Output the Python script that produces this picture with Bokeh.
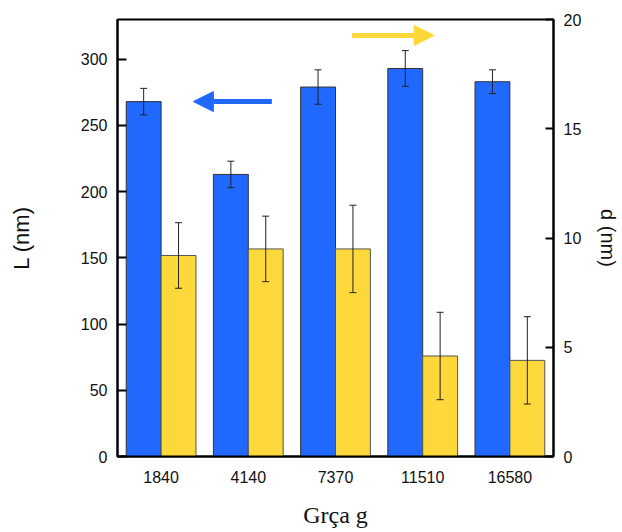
from bokeh.plotting import figure
from bokeh.models import (ColumnDataSource, FactorRange, Range1d, LinearAxis,
                          Whisker, TeeHead, Arrow, NormalHead, FixedTicker)
from bokeh.transform import dodge
from bokeh.embed import file_html
from bokeh.resources import INLINE

# ---- data ----
categories = ["1840", "4140", "7370", "11510", "16580"]
L_values = [268, 213, 279, 293, 283]          # left axis, nm
L_errors = [10, 10, 13, 13.5, 9]
d_values = [9.2, 9.5, 9.5, 4.6, 4.4]          # right axis, nm
d_errors = [1.5, 1.5, 2.0, 2.0, 2.0]
left_ticks = [0, 50, 100, 150, 200, 250, 300]
right_ticks = [0, 5, 10, 15, 20]

BLUE = "#2168FF"
YELLOW = "#FDD83B"
FONT = "Liberation Sans"
TXT = "#111111"

src = ColumnDataSource(data=dict(
    x=categories,
    L=L_values,
    L_up=[v + e for v, e in zip(L_values, L_errors)],
    L_lo=[v - e for v, e in zip(L_values, L_errors)],
    d=d_values,
    d_up=[v + e for v, e in zip(d_values, d_errors)],
    d_lo=[v - e for v, e in zip(d_values, d_errors)],
))

p = figure(width=622, height=530, x_range=FactorRange(factors=categories, range_padding=0),
           y_range=Range1d(0, 330), output_backend="svg", toolbar_location=None,
           min_border_left=117, min_border_right=67, min_border_top=19,
           min_border_bottom=73)
p.extra_y_ranges = {"d": Range1d(0, 20)}
p.background_fill_color = "white"
p.border_fill_color = "white"
p.outline_line_color = "black"
p.outline_line_width = 2
p.xgrid.visible = False
p.ygrid.visible = False

p.vbar(x=dodge("x", -0.2, range=p.x_range), top="L", width=0.4, source=src,
       fill_color=BLUE, line_color="#333333", line_width=1)
p.vbar(x=dodge("x", 0.2, range=p.x_range), top="d", width=0.4, source=src,
       fill_color=YELLOW, line_color="#555555", line_width=1, y_range_name="d")

w1 = Whisker(base=dodge("x", -0.2, range=p.x_range), upper="L_up", lower="L_lo",
             source=src, line_color="#222222", line_width=1, level="annotation",
             upper_head=TeeHead(size=7, line_color="#222222", line_width=1),
             lower_head=TeeHead(size=7, line_color="#222222", line_width=1))
w2 = Whisker(base=dodge("x", 0.2, range=p.x_range), upper="d_up", lower="d_lo",
             source=src, line_color="#222222", line_width=1, y_range_name="d",
             level="annotation",
             upper_head=TeeHead(size=7, line_color="#222222", line_width=1),
             lower_head=TeeHead(size=7, line_color="#222222", line_width=1))
p.add_layout(w1)
p.add_layout(w2)

# arrows indicating which axis each series uses
p.add_layout(Arrow(x_start=1.77, y_start=268, x_end=0.87, y_end=268,
                   line_color=BLUE, line_width=5,
                   end=NormalHead(size=20, fill_color=BLUE, line_color=BLUE)))
p.add_layout(Arrow(x_start=2.69, y_start=318, x_end=3.63, y_end=318,
                   line_color=YELLOW, line_width=5,
                   end=NormalHead(size=20, fill_color=YELLOW, line_color=YELLOW)))

# x axis
xa = p.xaxis[0]
xa.axis_label = "Grça g"
xa.axis_label_text_font = "Liberation Serif"
xa.axis_label_text_font_style = "normal"
xa.axis_label_text_font_size = "24px"
xa.axis_label_text_color = TXT
xa.axis_label_standoff = 16
xa.major_tick_line_color = None
xa.minor_tick_line_color = None
xa.major_label_text_font = FONT
xa.major_label_text_font_size = "16px"
xa.major_label_text_color = TXT
xa.major_label_standoff = 8
xa.axis_line_width = 2
xa.axis_line_color = "black"

# left axis
ya = p.yaxis[0]
ya.ticker = FixedTicker(ticks=left_ticks)
ya.axis_label = "L (nm)"
ya.axis_label_text_font = FONT
ya.axis_label_text_font_style = "normal"
ya.axis_label_text_font_size = "22px"
ya.axis_label_text_color = TXT
ya.axis_label_standoff = 44
ya.major_label_text_font = FONT
ya.major_label_text_font_size = "16px"
ya.major_label_text_color = TXT
ya.major_label_standoff = 10
ya.major_tick_in = 9
ya.major_tick_out = 0
ya.major_tick_line_width = 2
ya.minor_tick_line_color = None
ya.axis_line_width = 2

# right axis
ra = LinearAxis(y_range_name="d", ticker=FixedTicker(ticks=right_ticks))
ra.axis_label = "d (nm)"
ra.axis_label_text_font = FONT
ra.axis_label_text_font_style = "normal"
ra.axis_label_text_font_size = "20px"
ra.axis_label_text_color = TXT
ra.axis_label_standoff = 13
ra.major_label_text_font = FONT
ra.major_label_text_font_size = "16px"
ra.major_label_text_color = TXT
ra.major_label_standoff = 10
ra.major_tick_in = 8
ra.major_tick_out = 0
ra.major_tick_line_width = 2
ra.minor_tick_line_color = None
ra.axis_line_width = 2
p.add_layout(ra, "right")

open("out.html", "w").write(file_html(p, INLINE))
